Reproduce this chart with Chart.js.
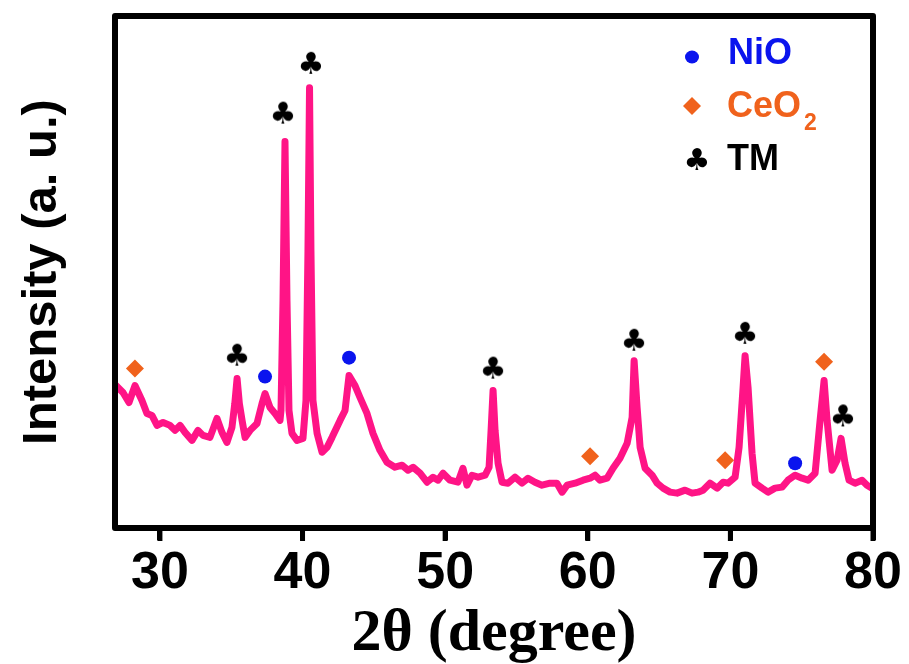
<!DOCTYPE html>
<html>
<head>
<meta charset="utf-8">
<script src="https://cdn.jsdelivr.net/npm/chart.js@4/dist/chart.umd.min.js"></script>
<style>
  html, body { margin: 0; padding: 0; background: #fff; }
  #wrap { width: 909px; height: 664px; }
</style>
</head>
<body>
<div id="wrap"><canvas id="xrd" width="909" height="664"></canvas></div>
<script>
// XRD pattern (intensity in arbitrary units)
const twoTheta = [
  26.92, 27.41, 27.83, 28.25, 28.74, 29.09, 29.44, 29.80, 30.22, 30.71,
  31.06, 31.41, 31.76, 32.25, 32.67, 33.02, 33.51, 34.00, 34.35, 34.70,
  35.05, 35.25, 35.41, 35.57, 35.76, 35.97, 36.32, 36.81, 37.16, 37.37,
  37.72, 38.07, 38.42, 38.49, 38.63, 38.77, 38.91, 39.05, 39.26, 39.61,
  40.03, 40.24, 40.38, 40.49, 40.59, 40.73, 41.02, 41.37, 41.72, 42.07,
  42.63, 42.98, 43.26, 43.68, 44.03, 44.52, 44.94, 45.43, 45.92, 46.48,
  46.98, 47.40, 47.75, 48.24, 48.73, 49.15, 49.50, 49.85, 50.34, 50.90,
  51.25, 51.53, 51.88, 52.31, 52.80, 53.08, 53.22, 53.36, 53.50, 53.71,
  53.99, 54.41, 54.90, 55.39, 55.81, 56.30, 56.79, 57.35, 57.84, 58.20,
  58.55, 59.11, 59.67, 60.16, 60.51, 60.86, 61.35, 61.77, 62.26, 62.76,
  63.11, 63.25, 63.46, 63.67, 64.02, 64.51, 64.86, 65.28, 65.77, 66.26,
  66.82, 67.31, 67.73, 68.08, 68.57, 69.07, 69.49, 69.84, 70.33, 70.61,
  70.89, 71.03, 71.24, 71.52, 71.73, 72.22, 72.64, 73.13, 73.62, 74.04,
  74.54, 75.03, 75.45, 75.94, 76.29, 76.57, 76.78, 77.13, 77.48, 77.76,
  78.04, 78.32, 78.74, 79.23, 79.58, 79.93
];
const intensity = [
  143, 136, 126, 143, 128, 115, 113, 103, 106, 103,
  98, 103, 96, 88, 98, 93, 91, 110, 96, 86,
  101, 125, 150, 125, 108, 91, 98, 105, 125, 135,
  121, 115, 108, 118, 228, 388, 228, 118, 95, 88,
  90, 128, 278, 442, 278, 128, 95, 76, 81, 91,
  108, 118, 153, 143, 131, 115, 95, 78, 66, 61,
  63, 58, 61, 55, 46, 51, 48, 55, 48, 46,
  60, 43, 53, 51, 53, 61, 98, 138, 98, 65,
  46, 45, 51, 45, 50, 46, 43, 45, 45, 36,
  43, 45, 48, 50, 53, 48, 50, 60, 70, 85,
  111, 168, 121, 81, 60, 53, 45, 40, 36, 35,
  38, 35, 36, 38, 45, 40, 46, 45, 51, 81,
  141, 173, 141, 75, 45, 40, 36, 40, 41, 48,
  53, 50, 48, 55, 108, 148, 108, 58, 68, 90,
  65, 48, 45, 48, 43, 40
];

// phase markers above the peaks
const nioX = [37.37, 43.26, 74.54];
const nioY = [152, 171, 65];
const ceo2X = [28.25, 60.16, 69.63, 76.57];
const ceo2Y = [160, 72, 68, 167];
const tmX = [35.41, 38.63, 40.59, 53.36, 63.25, 71.03, 77.90];
const tmY = [172, 415, 465, 159, 187, 194, 111];

const xTicks = [30, 40, 50, 60, 70, 80];

const PINK = '#ff1486';
const BLUE = '#0a14ee';
const ORANGE = '#f0621c';

const pts = (xs, ys) => xs.map((x, i) => ({ x: x, y: ys[i] }));

// club glyph as a point style image
function clubImage(size) {
  const c = document.createElement('canvas');
  c.width = size; c.height = size;
  const g = c.getContext('2d');
  g.fillStyle = '#000';
  g.font = 'bold ' + size + 'px "DejaVu Sans"';
  g.textAlign = 'center';
  g.textBaseline = 'middle';
  g.fillText('\u2663', size / 2, size / 2 + 1);
  return c;
}
const club = clubImage(30);

const framePlugin = {
  id: 'frame',
  afterDraw(chart) {
    const { ctx, chartArea: a } = chart;
    ctx.save();
    ctx.strokeStyle = '#000';
    ctx.lineWidth = 6;
    ctx.lineJoin = 'round';
    ctx.strokeRect(a.left, a.top, a.right - a.left, a.bottom - a.top);
    // tick marks below the bottom axis
    const xs = chart.scales.x;
    ctx.lineWidth = 5;
    xTicks.forEach(v => {
      const px = xs.getPixelForValue(v);
      ctx.beginPath();
      ctx.moveTo(px, a.bottom);
      ctx.lineTo(px, a.bottom + 13);
      ctx.stroke();
    });
    ctx.restore();
  }
};

const legendPlugin = {
  id: 'phaseLegend',
  afterDraw(chart) {
    const ctx = chart.ctx;
    ctx.save();
    ctx.fillStyle = BLUE;
    ctx.beginPath(); ctx.ellipse(692, 57, 7, 6.5, 0, 0, Math.PI * 2); ctx.fill();
    ctx.fillStyle = ORANGE;
    ctx.beginPath();
    ctx.moveTo(683, 106); ctx.lineTo(692, 97); ctx.lineTo(701, 106); ctx.lineTo(692, 115);
    ctx.closePath(); ctx.fill();
    ctx.drawImage(club, 697 - 15, 161 - 15);

    ctx.textBaseline = 'middle';
    ctx.textAlign = 'left';
    ctx.font = 'bold 36px "Liberation Sans"';
    ctx.fillStyle = BLUE;
    ctx.fillText('NiO', 728, 54);
    ctx.fillStyle = ORANGE;
    ctx.fillText('CeO', 727, 107);
    const w = ctx.measureText('CeO').width;
    ctx.font = 'bold 23px "Liberation Sans"';
    ctx.fillText('2', 727 + w + 3, 124);
    ctx.fillStyle = '#000';
    ctx.font = 'bold 36px "Liberation Sans"';
    ctx.fillText('TM', 727, 160);
    ctx.restore();
  }
};

new Chart(document.getElementById('xrd'), {
  type: 'scatter',
  data: {
    datasets: [
      {
        label: 'XRD',
        data: pts(twoTheta, intensity),
        showLine: true,
        borderColor: PINK,
        borderWidth: 7,
        pointRadius: 0,
        tension: 0,
        borderJoinStyle: 'round',
        borderCapStyle: 'round'
      },
      {
        label: 'NiO',
        data: pts(nioX, nioY),
        pointStyle: 'circle',
        pointRadius: 7,
        backgroundColor: BLUE,
        borderWidth: 0
      },
      {
        label: 'CeO2',
        data: pts(ceo2X, ceo2Y),
        pointStyle: 'rectRot',
        pointRadius: 9,
        backgroundColor: ORANGE,
        borderWidth: 0
      },
      {
        label: 'TM',
        data: pts(tmX, tmY),
        pointStyle: club,
        pointRadius: 15
      }
    ]
  },
  options: {
    responsive: false,
    animation: false,
    layout: { padding: { top: 14, right: 36, left: 0, bottom: 0 } },
    plugins: { legend: { display: false }, tooltip: { enabled: false } },
    scales: {
      x: {
        type: 'linear',
        min: 26.85,
        max: 80,
        afterBuildTicks: (s) => { s.ticks = xTicks.map(v => ({ value: v })); },
        afterFit: (s) => { s.height = 136; },
        border: { display: false },
        grid: {
          drawOnChartArea: false,
          drawTicks: true,
          tickLength: 12,
          tickWidth: 5,
          tickColor: '#000',
          color: '#000'
        },
        ticks: {
          color: '#000',
          padding: 2,
          maxRotation: 0,
          font: { family: 'Liberation Sans', weight: 'bold', size: 52 }
        },
        title: {
          display: true,
          text: '2\u03b8 (degree)',
          color: '#000',
          padding: { top: 0, bottom: 0 },
          font: { family: 'Liberation Serif', weight: 'bold', size: 60, lineHeight: 1 }
        }
      },
      y: {
        min: 0,
        max: 514,
        afterFit: (s) => { s.width = 115; },
        border: { display: false },
        grid: { display: false },
        ticks: { display: false },
        title: {
          display: true,
          text: 'Intensity (a. u.)',
          color: '#000',
          padding: { top: 18, bottom: 0 },
          font: { family: 'Liberation Sans', weight: 'bold', size: 49, lineHeight: 1 }
        }
      }
    }
  },
  plugins: [framePlugin, legendPlugin]
});
</script>
</body>
</html>
